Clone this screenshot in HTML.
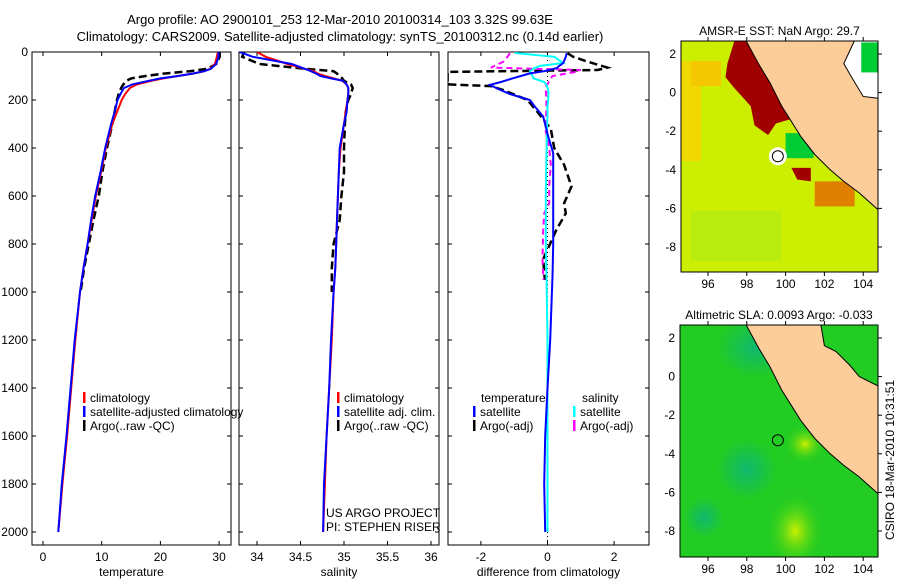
<!DOCTYPE html>
<html><head><meta charset="utf-8"><style>
html,body{margin:0;padding:0;background:#fff;}
svg{display:block;font-family:"Liberation Sans",sans-serif;}
</style></head><body>
<svg id="fig" width="900" height="580" viewBox="0 0 900 580" xmlns="http://www.w3.org/2000/svg">
<defs>
<clipPath id="c1"><rect x="32" y="52" width="199" height="493"/></clipPath>
<clipPath id="c2"><rect x="239" y="52" width="200" height="493"/></clipPath>
<clipPath id="c3"><rect x="448" y="52" width="201" height="493"/></clipPath>
<clipPath id="m1"><rect x="681" y="41" width="197" height="231"/></clipPath>
<clipPath id="m2"><rect x="680" y="325" width="198" height="232"/></clipPath>
<radialGradient id="blob1" cx="0.5" cy="0.5" r="0.5"><stop offset="0" stop-color="#ccf000"/><stop offset="1" stop-color="#22cc22" stop-opacity="0"/></radialGradient>
<radialGradient id="blob2" cx="0.5" cy="0.5" r="0.5"><stop offset="0" stop-color="#10b870"/><stop offset="1" stop-color="#10b870" stop-opacity="0"/></radialGradient>
</defs>
<text x="340" y="24" text-anchor="middle" font-size="13">Argo profile: AO 2900101_253 12-Mar-2010 20100314_103 3.32S 99.63E</text>
<text x="340" y="41" text-anchor="middle" font-size="13">Climatology: CARS2009. Satellite-adjusted climatology: synTS_20100312.nc (0.14d earlier)</text>
<g id="axes"></g>
<g id="maps"></g>
<text transform="translate(894,460) rotate(-90)" text-anchor="middle" font-size="12">CSIRO 18-Mar-2010 10:31:51</text>
</svg>
<script>
// ---- data ----
const depth = [0,20,50,70,80,90,100,110,120,135,150,175,200,250,300,400,500,600,700,800,900,1000,1200,1400,1600,1800,2000];
const tempClim = [29.8,29.6,29.3,28.5,27.5,25.5,23,20.5,18.5,16,14.8,14,13.4,12.6,11.8,10.7,9.9,9.0,8.3,7.6,6.9,6.3,5.5,4.8,4.1,3.3,2.6];
const tempSat = [29.9,29.9,29.5,28.6,27.5,25.5,23,20,18,15.2,13.8,13.2,12.7,12.2,11.6,10.6,9.8,8.9,8.2,7.6,6.9,6.3,5.4,4.7,4.0,3.2,2.6];
const argoDepth = [0,20,50,70,80,90,100,110,120,135,150,175,200,250,300,400,500,600,700,800,900,1000];
const tempArgo = [30.1,30.1,29.5,28,25,20.5,17.5,15,14.2,13.7,13.3,12.9,12.6,12.2,11.8,10.9,10.1,9.5,8.6,7.8,7.0,6.4];
const salClim = [34.0,34.1,34.35,34.55,34.65,34.7,34.78,34.88,34.98,35.03,35.05,35.05,35.04,35.02,35.0,34.96,34.94,34.93,34.92,34.91,34.9,34.88,34.86,34.83,34.8,34.78,34.76];
const salSat = [33.8,33.95,34.4,34.55,34.62,34.68,34.73,34.85,34.99,35.03,35.05,35.05,35.04,35.03,35.0,34.95,34.94,34.93,34.92,34.91,34.9,34.88,34.85,34.83,34.8,34.77,34.76];
const salArgo = [33.85,33.83,34.03,34.55,34.88,34.92,34.95,34.98,35.0,35.08,35.1,35.08,35.05,35.02,35.01,35.0,35.0,34.97,34.95,34.88,34.86,34.86];
const diffDepth = [4,20,46,58,67,80,89,100,109,125,137,158,175,200,227,269,352,421,600,800,935,1200,1400,1600,1800,2000];
const diffTempSat = [0.58,0.55,0.47,0.35,0.28,-0.1,-0.53,-0.8,-1.03,-1.4,-1.73,-1.42,-1.13,-0.53,-0.38,-0.13,0.02,0.17,0.17,0.17,0.15,0.08,0.0,-0.07,-0.1,-0.07];
const diffSalSat = [-0.98,0.2,0.47,-0.22,-0.4,-0.53,-0.5,-0.45,-0.43,-0.1,-0.03,0.02,0.03,0.02,0.0,0.0,-0.02,-0.03,-0.05,-0.05,-0.03,0.0,0.0,0.0,0.0,0.0];
const diffArgoDepth = [5,20,40,65,75,83,100,120,135,142,160,200,250,320,400,470,560,630,672,740,863,950];
const diffTempArgo = [0.6,0.77,1.2,1.8,1.5,-3,-3,-3,-3,-1.7,-1.3,-0.6,-0.3,0.1,0.2,0.5,0.72,0.5,0.55,0.27,-0.13,-0.08];
const diffSalArgo = [-1.13,-1.2,-1.32,-1.7,1.0,0.85,0.15,0.05,0.0,-0.05,-0.05,-0.03,-0.04,-0.07,0.05,0.1,0.05,0.05,-0.1,-0.13,-0.15,-0.12];
const depthTicks = [0,200,400,600,800,1000,1200,1400,1600,1800,2000];
const tempTicks = [0,10,20,30];
const salTicks = [34,34.5,35,35.5,36];
const diffTicks = [-2,0,2];
const lonTicks = [96,98,100,102,104];
const latTicks = [2,0,-2,-4,-6,-8];

const NS='http://www.w3.org/2000/svg';
const g=document.getElementById('axes');
function el(t,a,p){const e=document.createElementNS(NS,t);for(const k in a)e.setAttribute(k,a[k]);(p||g).appendChild(e);return e;}
const yD=d=>52+d*0.24;
const xT=v=>43+v*5.87;
const xS=v=>257+(v-34)*87;
const xDf=v=>547.5+v*33.3;

function panel(x0,w,ticks,xf,label,name,leftLabels){
  const r=el('rect',{x:x0,y:52,width:w,height:493,fill:'none',stroke:'#000','stroke-width':1});
  
  
  ticks.forEach(t=>{const x=xf(t);
    el('line',{x1:x,x2:x,y1:52,y2:56,stroke:'#000'});el('line',{x1:x,x2:x,y1:545,y2:541,stroke:'#000'});
    const tx=el('text',{x:x,y:561,'text-anchor':'middle','font-size':12});tx.textContent=t;
    
    });
  depthTicks.forEach(d=>{const y=yD(d);
    el('line',{x1:x0,x2:x0+4,y1:y,y2:y,stroke:'#000'});el('line',{x1:x0+w,x2:x0+w-4,y1:y,y2:y,stroke:'#000'});
    if(leftLabels){const tx=el('text',{x:x0-4,y:y+4,'text-anchor':'end','font-size':12});tx.textContent=d;
      
      }});
  const lb=el('text',{x:x0+w/2,y:576,'text-anchor':'middle','font-size':12});lb.textContent=label;
  
  
}
function line(ds,vs,xf,color,clip,name,dash,w){
  const pts=ds.map((d,i)=>xf(vs[i]).toFixed(1)+','+yD(d).toFixed(1)).join(' ');
  const a={points:pts,fill:'none',stroke:color,'stroke-width':w||2,'clip-path':'url(#'+clip+')'};
  if(dash)a['stroke-dasharray']=dash;
  const p=el('polyline',a);
  
  
}
function legend(x,y,items,name){
  items.forEach((it,i)=>{
    el('rect',{x:x,y:y+i*14-10,width:2.5,height:11,fill:it[1]});
    const t=el('text',{x:x+7,y:y+i*14,'font-size':12});t.textContent=it[0];
    
    
  });
}
panel(32,199,tempTicks,xT,'temperature','temperature-panel',true);
panel(239,200,salTicks,xS,'salinity','salinity-panel',false);
panel(448,201,diffTicks,xDf,'difference from climatology','difference-panel',false);
el('line',{x1:xDf(0),x2:xDf(0),y1:52,y2:545,stroke:'#000','stroke-dasharray':'1,3'});

line(argoDepth,tempArgo,xT,'#000','c1','temp-argo-line','8,4',2.5);
line(depth,tempClim,xT,'#f00','c1','temp-climatology-line');
line(depth,tempSat,xT,'#00f','c1','temp-satellite-line');
line(argoDepth,salArgo,xS,'#000','c2','sal-argo-line','8,4',2.5);
line(depth,salClim,xS,'#f00','c2','sal-climatology-line');
line(depth,salSat,xS,'#00f','c2','sal-satellite-line');
line(diffArgoDepth,diffTempArgo,xDf,'#000','c3','diff-temp-argo-line','8,4',2.5);
line(diffArgoDepth,diffSalArgo,xDf,'#f0f','c3','diff-sal-argo-line','6,4',2);
line(diffDepth,diffSalSat,xDf,'#0ff','c3','diff-sal-satellite-line');
line(diffDepth,diffTempSat,xDf,'#00f','c3','diff-temp-satellite-line');

legend(83,402,[['climatology','#f00'],['satellite-adjusted climatology','#00f'],['Argo(..raw -QC)','#000']],'temp-legend');
legend(337,402,[['climatology','#f00'],['satellite adj. clim.','#00f'],['Argo(..raw -QC)','#000']],'sal-legend');
const t1=el('text',{x:481,y:402,'font-size':12});t1.textContent='temperature';


const t2=el('text',{x:582,y:402,'font-size':12});t2.textContent='salinity';


legend(473,416,[['satellite','#00f'],['Argo(-adj)','#000']],'diff-temp-legend');
legend(573,416,[['satellite','#0ff'],['Argo(-adj)','#f0f']],'diff-sal-legend');
const w1=el('text',{x:326,y:517,'font-size':12});w1.textContent='US ARGO PROJECT';


const w2=el('text',{x:326,y:531,'font-size':12});w2.textContent='PI: STEPHEN RISER';



// ---- maps ----
const mg=document.getElementById('maps');
const coast=[[97.9,2.8],[98.6,1.5],[99.2,0.5],[99.8,-0.7],[100.3,-1.5],[100.8,-2.3],[101.5,-3.2],[102.3,-4.0],[103.0,-4.6],[103.8,-5.2],[104.8,-6.1],[104.8,2.8]];
function drawMap(x0,y0,w,h,latRefY,title,name,clip,isSst){
  const xL=l=>708+(l-96)*19.4, yL=la=>latRefY+(2-la)*19.3;
  const pg=el('g',{'clip-path':'url(#'+clip+')'},mg);
  if(isSst){
    el('rect',{x:x0,y:y0,width:w,height:h,fill:'#ccee00'},pg);
    el('rect',{x:x0,y:y0+20,width:20,height:100,fill:'#f0d800'},pg);
    el('rect',{x:x0+10,y:y0+20,width:30,height:25,fill:'#f4c800'},pg);
    el('rect',{x:x0+10,y:y0+170,width:90,height:50,fill:'#b8ec10'},pg);
    el('polygon',{points:[[97.4,2.8],[100.2,2.8],[100.5,-1.3],[99.5,-1.6],[99.1,-2.2],[98.4,-1.7],[98.2,-0.7],[97.3,0.3],[96.9,0.8],[97.0,1.5]].map(p=>xL(p[0])+','+yL(p[1])).join(' '),fill:'#a00000'},pg);
    el('polygon',{points:[[100.3,-3.9],[101.3,-3.9],[101.3,-4.6],[100.6,-4.5]].map(p=>xL(p[0])+','+yL(p[1])).join(' '),fill:'#a00000'},pg);
    el('rect',{x:xL(101.5),y:yL(-4.6),width:40,height:25,fill:'#e08000'},pg);
    el('rect',{x:xL(100.0),y:yL(-2.1),width:28,height:25,fill:'#00cc33'},pg);
    el('circle',{cx:xL(99.6),cy:yL(-3.3),r:9,fill:'#fff'},pg);
  } else {
    el('rect',{x:x0,y:y0,width:w,height:h,fill:'#22cc22'},pg);
    el('ellipse',{cx:xL(100.5),cy:yL(-8),rx:30,ry:40,fill:'url(#blob1)'},pg);
    el('ellipse',{cx:xL(101),cy:yL(-3.5),rx:22,ry:20,fill:'url(#blob1)'},pg);
    el('ellipse',{cx:xL(98),cy:yL(-4.8),rx:30,ry:30,fill:'url(#blob2)'},pg);
    el('ellipse',{cx:xL(95.8),cy:yL(-7.3),rx:20,ry:20,fill:'url(#blob2)'},pg);
    el('ellipse',{cx:xL(98.5),cy:yL(1.5),rx:40,ry:30,fill:'url(#blob2)'},pg);
  }
  el('polygon',{points:coast.map(p=>xL(p[0])+','+yL(p[1])).join(' '),fill:'#fccc99',stroke:'#000','stroke-width':1},pg);
  const tr=isSst?[[103.6,2.8],[104.8,2.8],[104.8,-0.3],[104.0,-0.2],[103.4,0.8],[103.0,1.5]]:[[101.8,2.8],[104.8,2.8],[104.8,-0.5],[103.8,0.0],[103.3,0.6],[102.6,1.3],[102.0,1.6]];
  el('polygon',{points:tr.map(p=>xL(p[0])+','+yL(p[1])).join(' '),fill:isSst?'#fff':'#22cc22',stroke:'#000','stroke-width':1},pg);
  if(isSst) el('rect',{x:xL(103.9),y:yL(2.6),width:18,height:30,fill:'#00cc33'},pg);
  el('circle',{cx:xL(99.6),cy:yL(-3.3),r:5.5,fill:'none',stroke:'#000','stroke-width':1},pg);
  const fr=el('rect',{x:x0,y:y0,width:w,height:h,fill:'none',stroke:'#000'},mg);
  
  
  lonTicks.forEach(l=>{const x=xL(l);el('line',{x1:x,x2:x,y1:y0+h,y2:y0+h+4,stroke:'#000'},mg);el('line',{x1:x,x2:x,y1:y0,y2:y0-4,stroke:'#000'},mg);
    const t=el('text',{x:x,y:y0+h+16,'text-anchor':'middle','font-size':12},mg);t.textContent=l;
    
    });
  latTicks.forEach(la=>{const y=yL(la);el('line',{x1:x0+w,x2:x0+w+4,y1:y,y2:y,stroke:'#000'},mg);
    const t=el('text',{x:x0-5,y:y+4,'text-anchor':'end','font-size':12},mg);t.textContent=la;
    
    });
  const tt=el('text',{x:x0+w/2,y:y0-6,'text-anchor':'middle','font-size':12},mg);tt.textContent=title;
  
  
}
drawMap(681,41,197,231,54,'AMSR-E SST: NaN Argo: 29.7','sst-map','m1',true);
drawMap(680,325,198,232,338,'Altimetric SLA: 0.0093 Argo: -0.033','sla-map','m2',false);
</script>
</body></html>
